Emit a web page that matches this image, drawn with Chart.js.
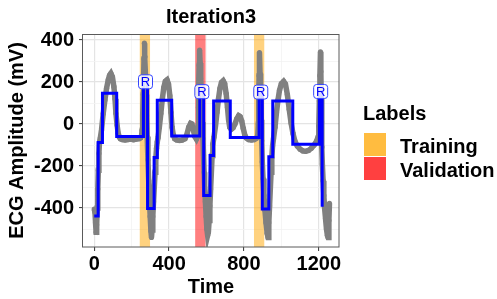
<!DOCTYPE html>
<html>
<head>
<meta charset="utf-8">
<script src="https://cdn.jsdelivr.net/npm/chart.js@4.4.1/dist/chart.umd.min.js"></script>
<style>
  html, body { margin: 0; padding: 0; background: #fff; }
  canvas { display: block; }
</style>
</head>
<body>
<canvas id="ecg" width="497" height="299"></canvas>
<script>
// raw ECG samples (time, amplitude in mV)
const signalTime = [
  0, 4, 7, 10, 13, 16, 19, 22, 25, 28, 32,
  39, 48, 57, 66, 75, 82, 89, 97, 105, 111, 116, 122, 128, 134, 140,
  150, 165, 180, 195, 210, 225, 240, 248, 253, 256, 259, 262, 264, 266,
  268, 271, 274, 277, 280, 283, 287, 291, 295, 299, 303, 306,
  309, 313, 317, 321, 325, 329, 333, 337, 341,
  348, 356, 364, 372, 380, 389, 397, 404, 410, 416, 422, 430,
  440, 455, 470, 485, 495, 505, 515, 522, 530, 538, 546, 552,
  555, 557, 559, 561, 563, 566, 569, 572, 575, 578, 581, 584, 587, 590, 594, 598, 602, 606,
  610, 614, 618, 622, 626, 630, 634, 640,
  648, 656, 664, 672, 680, 689, 697, 705, 712, 718, 724, 732, 742, 752, 762, 772, 780, 788,
  796, 804, 812, 825, 840, 855, 866, 874,
  877, 879, 881, 883, 886, 889, 892, 895, 898, 902, 907, 912, 918, 924, 929,
  933, 937, 941, 945, 949, 953, 958,
  966, 974, 982, 990, 1000, 1012, 1022, 1032, 1042, 1052, 1062, 1072, 1085, 1100, 1115,
  1130, 1145, 1160, 1175, 1188, 1197,
  1200, 1203, 1206, 1209, 1211, 1213, 1215, 1217, 1219, 1223, 1227, 1231, 1236, 1241, 1246,
  1250, 1254, 1257
];
const signalAmp = [
  -405, -420, -470, -515, -480, -400, -310, -220, -140, -90, -70,
  -28, 50, 114, 170, 210, 232, 241, 225, 178, 120, 51, -5, -44, -62, -70,
  -74, -76, -74, -72, -75, -72, -70, -65, -55, -30, 40, 140, 230, 310,
  385, 320, 230, 140, 40, -60, -170, -270, -360, -440, -510, -540,
  -505, -440, -370, -300, -230, -165, -115, -85, -65,
  -15, 50, 120, 175, 203, 210, 190, 135, 55, -15, -50, -70,
  -76, -78, -76, -70, -50, -15, 3, 0, -30, -60, -72, -60,
  -10, 80, 180, 280, 352, 290, 220, 150, 80, 10, -70, -150, -230, -300, -370, -440, -500, -530,
  -515, -460, -390, -310, -230, -150, -95, -62,
  -10, 55, 120, 170, 198, 206, 192, 145, 80, 20, -15, -25, -18, 0, 25, 40, 35, 15,
  -20, -50, -66, -74, -76, -74, -68, -55,
  0, 110, 230, 340, 240, 130, 20, -80, -180, -260, -340, -410, -470, -520, -540,
  -470, -390, -310, -230, -160, -105, -70,
  -15, 55, 115, 160, 192, 203, 190, 140, 70, 5, -45, -80, -105, -120, -128,
  -130, -126, -116, -100, -82, -60,
  -10, 110, 230, 344, 250, 130, 10, -110, -190, -270, -340, -400, -450, -500, -530,
  -540, -460, -378
];

// piecewise-constant fit (value holds from each time until the next)
const stepTime = [0, 21, 44, 120, 263, 285, 320, 337, 414, 564, 585, 619, 638, 727, 881, 898, 933, 954, 1061, 1203, 1218];
const stepAmp = [-438, -88, 146, -60, 201, -402, -160, 113, -57, 154, -340, -150, 110, -64, 152, -405, -156, 110, -97, 155, -394];

// R peak labels
const peakTime = [274, 575, 890, 1210];
const peakAmp = [201, 154, 152, 155];
const peakText = ['R', 'R', 'R', 'R'];

// labelled windows
const trainingStart = [242, 853];
const trainingEnd = [299, 910];
const validationStart = [539];
const validationEnd = [596];

const legendLabels = ['Training', 'Validation'];
const legendColors = ['rgba(255,165,0,0.75)', 'rgba(255,0,0,0.75)'];
const bandColors = ['rgba(255,165,0,0.5)', 'rgba(255,0,0,0.5)'];

const xMajor = [0, 400, 800, 1200];
const xMinor = [200, 600, 1000];
const yMajor = [-400, -200, 0, 200, 400];
const yMinor = [-500, -300, -100, 100, 300];
const xLimits = [-60, 1308];
const yLimits = [-585.7, 428.6];

Chart.defaults.font.family = "'Liberation Sans', Arial, sans-serif";
Chart.defaults.color = '#000';

function band(start, end, color) {
  return {
    data: [{x: start, y: yLimits[1]}, {x: end, y: yLimits[1]}],
    fill: 'start',
    backgroundColor: color,
    borderWidth: 0,
    pointRadius: 0,
    order: 3,
  };
}

const bands = [];
trainingStart.forEach((s, i) => bands.push(band(s, trainingEnd[i], bandColors[0])));
validationStart.forEach((s, i) => bands.push(band(s, validationEnd[i], bandColors[1])));

const panelBox = {
  id: 'panelBox',
  afterDatasetsDraw(chart) {
    const a = chart.chartArea;
    const ctx = chart.ctx;
    ctx.save();
    ctx.strokeStyle = '#5a5a5a';
    ctx.lineWidth = 1;
    ctx.strokeRect(Math.round(a.left) - 0.5, Math.round(a.top) + 0.5,
      Math.round(a.right - a.left) + 0.5, Math.round(a.bottom - a.top) - 0.5);
    ctx.restore();
  }
};

const peakLabels = {
  id: 'peakLabels',
  afterDatasetsDraw(chart) {
    const ctx = chart.ctx;
    const xs = chart.scales.x, ys = chart.scales.y;
    ctx.save();
    ctx.font = "13px 'Liberation Sans', Arial, sans-serif";
    ctx.textAlign = 'center';
    ctx.textBaseline = 'middle';
    peakTime.forEach((t, i) => {
      const px = xs.getPixelForValue(t);
      const py = ys.getPixelForValue(peakAmp[i]);
      ctx.beginPath();
      ctx.roundRect(px - 7, py - 7, 14, 14, 3);
      ctx.fillStyle = 'rgba(255,255,255,0.85)';
      ctx.fill();
      ctx.strokeStyle = '#3344ff';
      ctx.lineWidth = 1;
      ctx.stroke();
      ctx.fillStyle = '#0000ff';
      ctx.fillText(peakText[i], px, py + 0.5);
    });
    ctx.restore();
  }
};

const sideLegend = {
  id: 'sideLegend',
  afterDraw(chart) {
    const ctx = chart.ctx;
    ctx.save();
    ctx.fillStyle = '#000';
    ctx.font = "bold 20px 'Liberation Sans', Arial, sans-serif";
    ctx.textBaseline = 'alphabetic';
    ctx.fillText('Labels', 363, 120);
    legendLabels.forEach((lab, i) => {
      ctx.fillStyle = legendColors[i];
      ctx.fillRect(364, 133 + i * 24, 22, 23);
      ctx.fillStyle = '#000';
      ctx.fillText(lab, 400, 153 + i * 23.5);
    });
    ctx.restore();
  }
};

const gridColor = (major) => (ctx) => major.includes(ctx.tick && ctx.tick.value) ? '#e4e4e4' : '#f3f3f3';
const gridWidth = (major) => (ctx) => major.includes(ctx.tick && ctx.tick.value) ? 1.2 : 0.8;
const tickMarkColor = (major) => (ctx) => major.includes(ctx.tick && ctx.tick.value) ? '#333' : 'rgba(0,0,0,0)';

new Chart(document.getElementById('ecg'), {
  type: 'line',
  data: {
    datasets: [
      {
        data: stepTime.map((t, i) => ({x: t, y: stepAmp[i]})),
        stepped: 'before',
        borderColor: '#0000ff',
        borderWidth: 3,
        borderJoinStyle: 'miter',
        pointRadius: 0,
        fill: false,
        order: 1,
      },
      {
        data: signalTime.map((t, i) => ({x: t, y: signalAmp[i]})),
        borderColor: '#808080',
        borderWidth: 5.5,
        pointRadius: 2.6,
        pointBorderWidth: 0,
        pointBackgroundColor: '#808080',
        fill: false,
        tension: 0,
        order: 2,
      },
      ...bands,
    ]
  },
  options: {
    responsive: false,
    animation: false,
    events: [],
    layout: { padding: { right: 158 } },
    plugins: {
      legend: { display: false },
      tooltip: { enabled: false },
      title: {
        display: true,
        text: 'Iteration3',
        fullSize: false,
        font: { size: 20, weight: 'bold' },
        color: '#000',
        padding: { top: 5, bottom: 5 },
      },
    },
    scales: {
      x: {
        type: 'linear',
        min: xLimits[0],
        max: xLimits[1],
        afterBuildTicks: (s) => { s.ticks = [...xMajor, ...xMinor].sort((a, b) => a - b).map(v => ({value: v})); },
        afterFit: (s) => { s.height = 52; s.paddingLeft = 0; s.paddingRight = 0; },
        border: { display: false },
        grid: { color: gridColor(xMajor), lineWidth: gridWidth(xMajor), tickColor: tickMarkColor(xMajor), tickLength: 4, tickWidth: 1 },
        ticks: {
          autoSkip: false, maxRotation: 0, padding: 1,
          font: { size: 20, weight: 'bold' }, color: '#000',
          callback: (v) => xMajor.includes(v) ? String(v) : '',
        },
        title: { display: true, text: 'Time', font: { size: 20, weight: 'bold' }, color: '#000', padding: { top: 0, bottom: 0 } },
      },
      y: {
        type: 'linear',
        min: yLimits[0],
        max: yLimits[1],
        afterBuildTicks: (s) => { s.ticks = [...yMajor, ...yMinor].sort((a, b) => a - b).map(v => ({value: v})); },
        afterFit: (s) => { s.width = 83; s.paddingTop = 0; s.paddingBottom = 0; },
        border: { display: false },
        grid: { color: gridColor(yMajor), lineWidth: gridWidth(yMajor), tickColor: tickMarkColor(yMajor), tickLength: 4, tickWidth: 1 },
        ticks: {
          autoSkip: false, padding: 5,
          font: { size: 20, weight: 'bold' }, color: '#000',
          callback: (v) => yMajor.includes(v) ? String(v) : '',
        },
        title: { display: true, text: 'ECG Amplitude (mV)', font: { size: 20, weight: 'bold' }, color: '#000', padding: { top: 5, bottom: 0 } },
      },
    }
  },
  plugins: [panelBox, peakLabels, sideLegend],
});
</script>
</body>
</html>
